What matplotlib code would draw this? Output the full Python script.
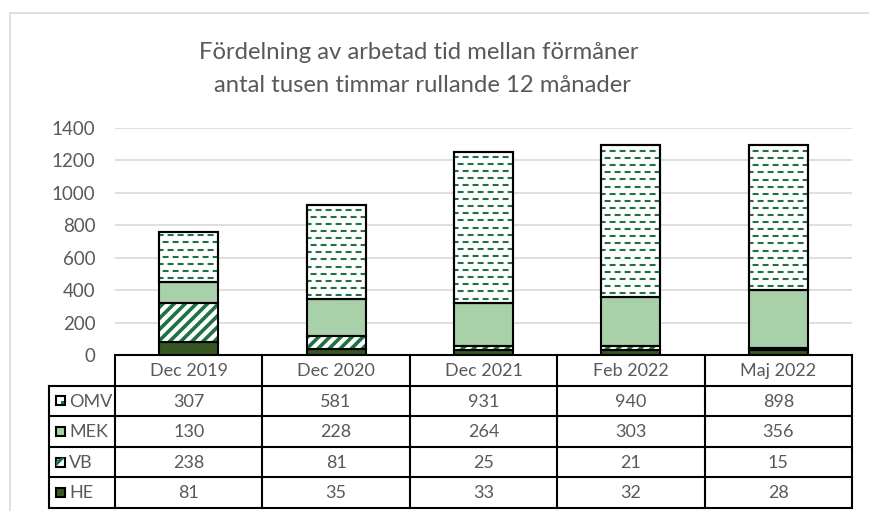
import numpy as np
import matplotlib.pyplot as plt
from matplotlib.patches import Rectangle, Polygon
from matplotlib.collections import LineCollection

plt.rcParams['font.family'] = ['Lato', 'DejaVu Sans']
plt.rcParams['lines.scale_dashes'] = False
plt.rcParams['hatch.linewidth'] = 2.6

months = ['Dec 2019', 'Dec 2020', 'Dec 2021', 'Feb 2022', 'Maj 2022']
omv = [307, 581, 931, 940, 898]
mek = [130, 228, 264, 303, 356]
vb = [238, 81, 25, 21, 15]
he = [81, 35, 33, 32, 28]

series_names = ['OMV', 'MEK', 'VB', 'HE']
series_vals = [omv, mek, vb, he]

grey = '#595959'
dark_green = '#375623'
light_green = '#a9d1a9'
hatch_green = '#1e7145'

W, H = 869, 511
fig = plt.figure(figsize=(W / 100, H / 100), dpi=100)


def box(x0, y0, x1, y1):
    # pixel box measured from the top-left corner
    return [x0 / W, 1 - y1 / H, (x1 - x0) / W, (y1 - y0) / H]


# outer chart frame
fig.patches.append(Rectangle((10 / W, -0.1), 1.2, 1 - 13 / H + 0.1,
                             transform=fig.transFigure, fill=False,
                             edgecolor='#d9d9d9', lw=1.2))

fig.text(419 / W, 1 - 59 / H, 'Fördelning av arbetad tid mellan förmåner',
         ha='center', va='baseline', fontsize=17.2, color=grey)
fig.text(422 / W, 1 - 92 / H, 'antal tusen timmar rullande 12 månader',
         ha='center', va='baseline', fontsize=17.2, color=grey)

ax = fig.add_axes(box(115, 128, 852, 355))
ax.set_xlim(-0.5, 4.5)
ax.set_ylim(0, 1400)
ax.set_yticks(range(0, 1401, 200))
ax.tick_params(axis='y', length=0, pad=14, labelsize=13.5, labelcolor=grey)
ax.set_xticks([])
for s in ax.spines.values():
    s.set_visible(False)
ax.grid(axis='y', color='#d9d9d9', lw=1.2)
ax.set_axisbelow(True)

x = np.arange(len(months))
bw = 0.4
he_a = np.array(he)
vb_a = np.array(vb)
mek_a = np.array(mek)
omv_a = np.array(omv)

ax.bar(x, he_a, bw, color=dark_green, edgecolor='black', lw=1.5, zorder=3)

b1 = he_a
ax.bar(x, vb_a, bw, bottom=b1, facecolor='white', edgecolor=hatch_green,
       hatch='///', lw=0, zorder=3)
ax.bar(x, vb_a, bw, bottom=b1, fill=False, edgecolor='black', lw=1.5, zorder=4)

b2 = b1 + vb_a
ax.bar(x, mek_a, bw, bottom=b2, color=light_green, edgecolor='black', lw=1.5, zorder=3)

b3 = b2 + mek_a
omv_bars = ax.bar(x, omv_a, bw, bottom=b3, facecolor='white', edgecolor='black',
                  lw=1.5, zorder=3)

# dashed horizontal fill pattern for OMV
unit_px = ax.get_position().height * H / 1400
sp = 7.1 / unit_px
for i, rect in enumerate(omv_bars):
    ys = np.arange(b3[i] + sp * 0.6, b3[i] + omv_a[i], sp)
    for k, off in ((0, 1.0), (1, 4.6)):
        segs = [[(i - bw / 2, y), (i + bw / 2, y)] for y in ys[k::2]]
        lc = LineCollection(segs, colors=hatch_green, linewidths=1.5,
                            linestyles=[(off, (4.3, 2.9))], zorder=3.5)
        lc.set_clip_path(rect)
        ax.add_collection(lc)
ax.bar(x, omv_a, bw, bottom=b3, fill=False, edgecolor='black', lw=1.5, zorder=4)

# data table
col_px = (852 - 115) / 5
xl = -0.5 - (115 - 49) / col_px
tax = fig.add_axes(box(49, 355, 852, 508))
tax.set_xlim(xl, 4.5)
tax.set_ylim(5, 0)
tax.axis('off')
row_px = (508 - 355) / 5

lk = dict(color='black', lw=1.5, clip_on=False, solid_capstyle='projecting')
tax.plot([-0.5, 4.5], [0, 0], **lk)
for r in range(1, 6):
    tax.plot([xl, 4.5], [r, r], **lk)
tax.plot([xl, xl], [1, 5], **lk)
for c in range(6):
    tax.plot([c - 0.5, c - 0.5], [0, 5], **lk)

for i, m in enumerate(months):
    tax.text(i, 0.52, m, ha='center', va='center', fontsize=13, color=grey)

sw_w = 9 / col_px
sw_h = 9 / row_px
faces = ['white', light_green, 'white', dark_green]
for r, (name, vals) in enumerate(zip(series_names, series_vals)):
    yc = r + 1.5
    sx = xl + (56 - 49) / col_px
    y0 = yc - sw_h / 2
    tax.add_patch(Rectangle((sx, y0), sw_w, sw_h, facecolor=faces[r],
                            edgecolor='black', lw=1.5, zorder=3))
    if name == 'VB':
        tax.add_patch(Polygon([(sx, y0 + sw_h), (sx, y0 + sw_h * 0.35),
                               (sx + sw_w * 0.65, y0), (sx + sw_w, y0)],
                              closed=True, facecolor=hatch_green, lw=0, zorder=3.5))
    if name == 'OMV':
        tax.add_patch(Rectangle((sx + sw_w * 0.55, y0 + sw_h * 0.55), sw_w * 0.3,
                                sw_h * 0.25, facecolor=hatch_green, lw=0, zorder=3.5))
    tax.text(xl + (69 - 49) / col_px, yc + 0.02, name, ha='left', va='center',
             fontsize=13, color=grey)
    for i, v in enumerate(vals):
        tax.text(i, yc + 0.02, str(v), ha='center', va='center', fontsize=13,
                 color=grey)

fig.savefig('out.png', dpi=100)
